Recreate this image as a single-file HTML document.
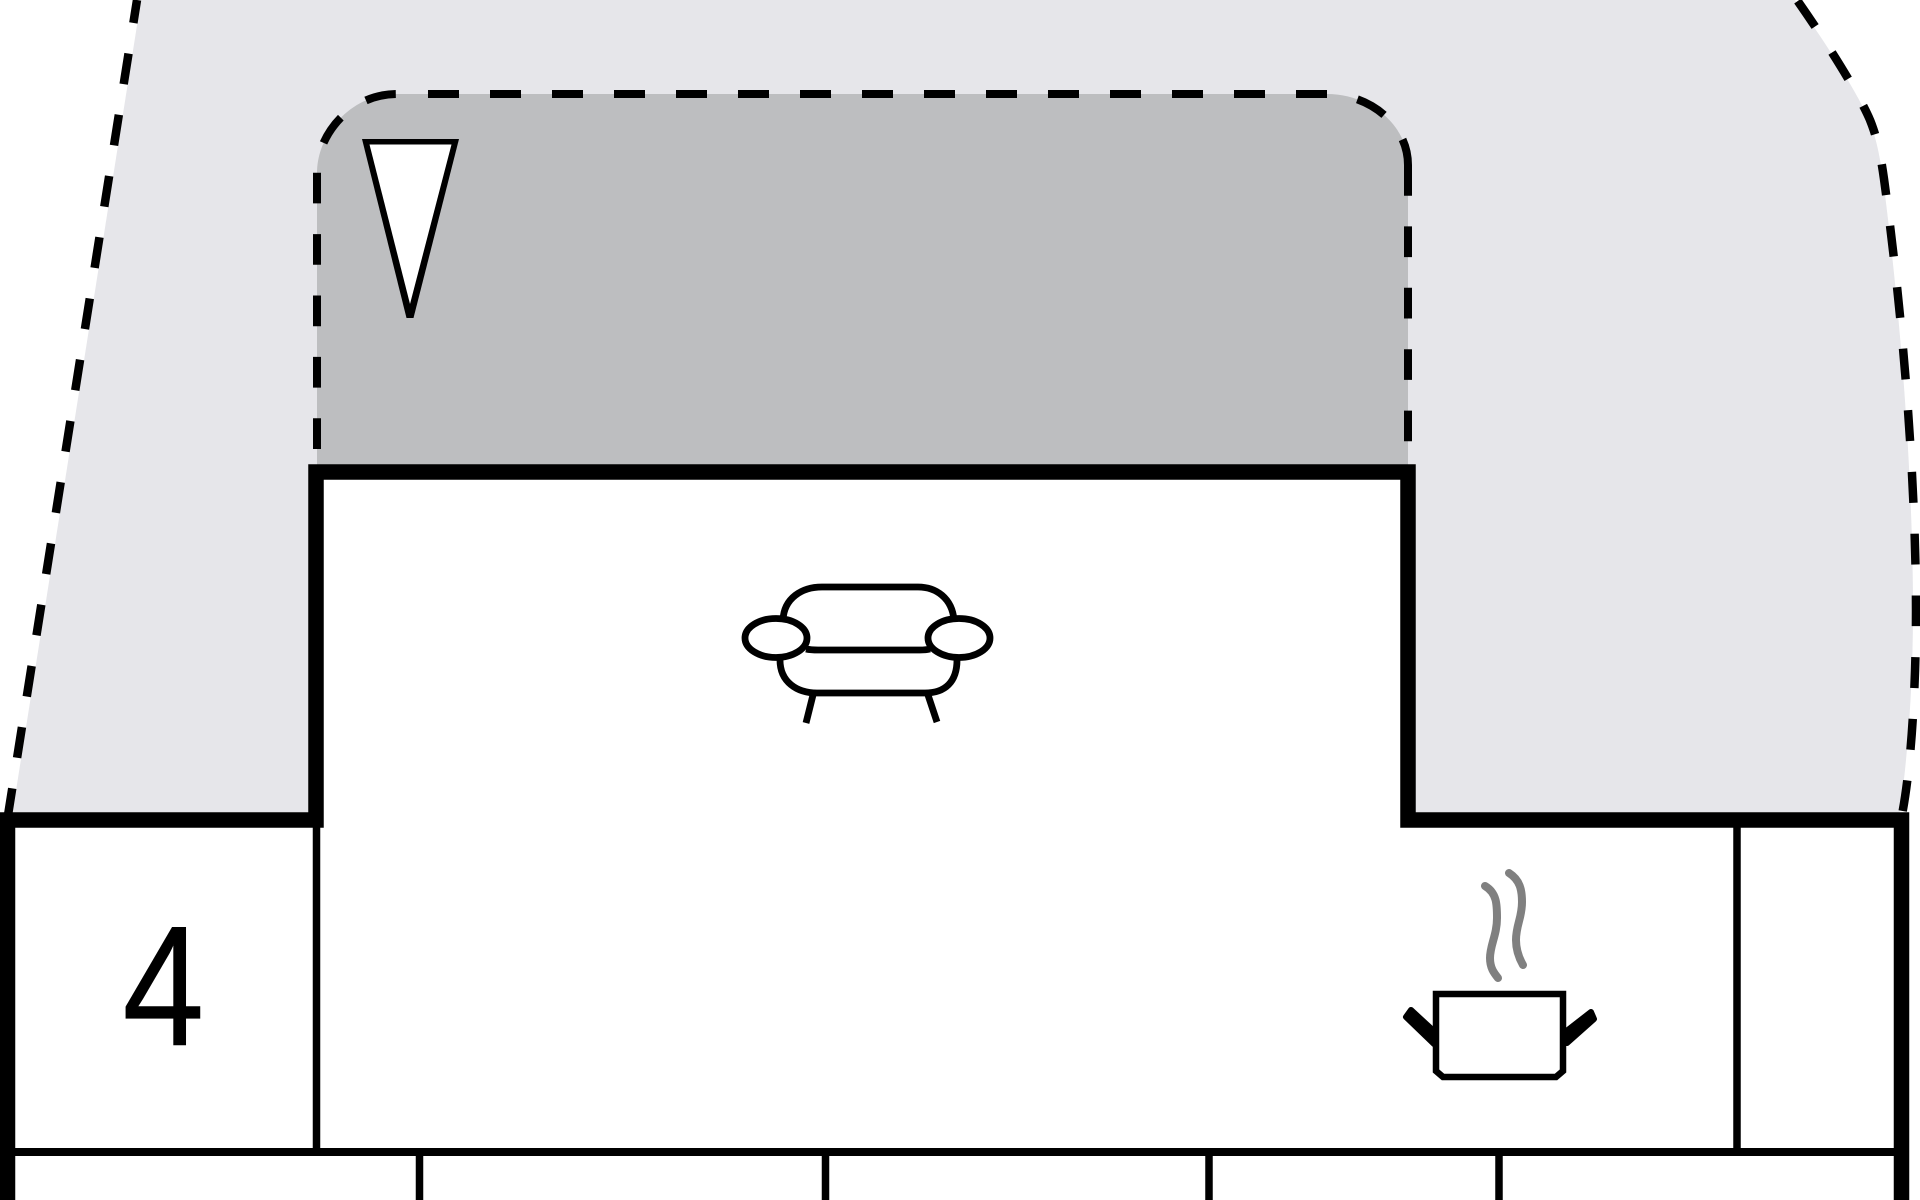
<!DOCTYPE html>
<html>
<head>
<meta charset="utf-8">
<style>
html,body{margin:0;padding:0;background:#fff;width:1920px;height:1200px;overflow:hidden}
svg{display:block}
</style>
</head>
<body>
<svg width="1920" height="1200" viewBox="0 0 1920 1200" xmlns="http://www.w3.org/2000/svg">
<rect width="1920" height="1200" fill="#fff"/>
<!-- outer zone fill -->
<path d="M141,0 L12,816 L1899,816 C1908,760 1913,680 1913,611 C1913,500 1904,340 1883,179 C1879,150 1875,135 1869,120 C1857,92 1824,40 1795,0 Z" fill="#e6e6ea"/>
<!-- outer dashes -->
<path d="M7.4,819 L137,0" fill="none" stroke="#000" stroke-width="8.5" stroke-dasharray="31 31"/>
<path d="M1902.7,811 C1912,760 1916,680 1916,611 C1916,500 1906,340 1884,179 C1880,150 1876,135 1870,120 C1858,92 1825,40 1797,0" fill="none" stroke="#000" stroke-width="8.5" stroke-dasharray="30.9 30.9"/>
<!-- inner zone -->
<path d="M317,472 L317,172.7 C317,135 350,94 397,94 L1327,94 C1370,94 1408,125 1408,165 L1408,472 Z" fill="#bdbec0"/>
<path d="M317,472 L317,172.7 C317,135 350,94 397,94" fill="none" stroke="#000" stroke-width="8" stroke-dasharray="30.7 30.7" stroke-dashoffset="38.4"/>
<path d="M428,94 L1327,94 C1370,94 1408,125 1408,165" fill="none" stroke="#000" stroke-width="8" stroke-dasharray="31 31"/>
<path d="M1408,472 L1408,165" fill="none" stroke="#000" stroke-width="8" stroke-dasharray="30.7 30.7" stroke-dashoffset="30.7"/>
<!-- triangle -->
<polygon points="362,139 459,139 413.5,318 406.5,318" fill="#000"/>
<polygon points="369.5,144.5 451.5,144.5 410,304" fill="#fff"/>
<!-- room interior -->
<path d="M7.5,1200 V820 H316 V472 H1408 V820 H1901.5 V1200 Z" fill="#fff"/>
<!-- thin lines -->
<path d="M316.5,820 V1152 M1737,820 V1152" stroke="#000" stroke-width="7.5" fill="none"/>
<path d="M10,1152 H1898" stroke="#000" stroke-width="8" fill="none"/>
<path d="M419.5,1152 V1200 M825.5,1152 V1200 M1209,1152 V1200 M1499,1152 V1200" stroke="#000" stroke-width="7.5" fill="none"/>
<!-- thick walls -->
<path d="M7.5,1200 V820 H316 V472 H1408 V820 H1901.5 V1200" fill="none" stroke="#000" stroke-width="15.5" stroke-miterlimit="10"/>
<!-- number -->
<text transform="translate(122.5,1045) scale(0.86,1)" font-family="'Liberation Sans',sans-serif" font-size="171" fill="#000" stroke="#000" stroke-width="0.6">4</text>
<!-- sofa -->
<g fill="none" stroke="#000" stroke-width="6.8">
<path d="M783,620 C784,598 802,587 822,587 H918 C936,587 952,598 954,620"/>
<path d="M806,649 C811,650 813,650 818,650 H920 C924,650 926,650 930,649"/>
<path d="M780,660 C780,682 797,693 817,693 H925 C945,693 957,682 957,660"/>
<path d="M813,695 L806,723 M928,695 L937,722"/>
<ellipse cx="776" cy="638" rx="31" ry="19.5"/>
<ellipse cx="959" cy="638" rx="31" ry="19.5"/>
</g>
<!-- pot -->
<polygon points="1406,1017 1411,1010 1437,1034 1437,1040 1434,1044" fill="#000" stroke="#000" stroke-width="6" stroke-linejoin="round"/>
<polygon points="1591,1012 1594,1019 1567,1043 1564,1043 1564,1033" fill="#000" stroke="#000" stroke-width="6" stroke-linejoin="round"/>
<polygon points="1436,994 1563,994 1563,1071 1556,1077 1443,1077 1436,1071" fill="#fff" stroke="#000" stroke-width="6.5"/>
<path d="M1485,886 C1497,893 1497,905 1497,918 C1497,935 1490,945 1490,958 C1490,968 1494,973 1498,978" fill="none" stroke="#808080" stroke-width="8" stroke-linecap="round"/>
<path d="M1509,873 C1520,880 1522,890 1522,902 C1522,918 1516,925 1516,940 C1516,950 1519,958 1523,965" fill="none" stroke="#808080" stroke-width="8" stroke-linecap="round"/>
</svg>
</body>
</html>
